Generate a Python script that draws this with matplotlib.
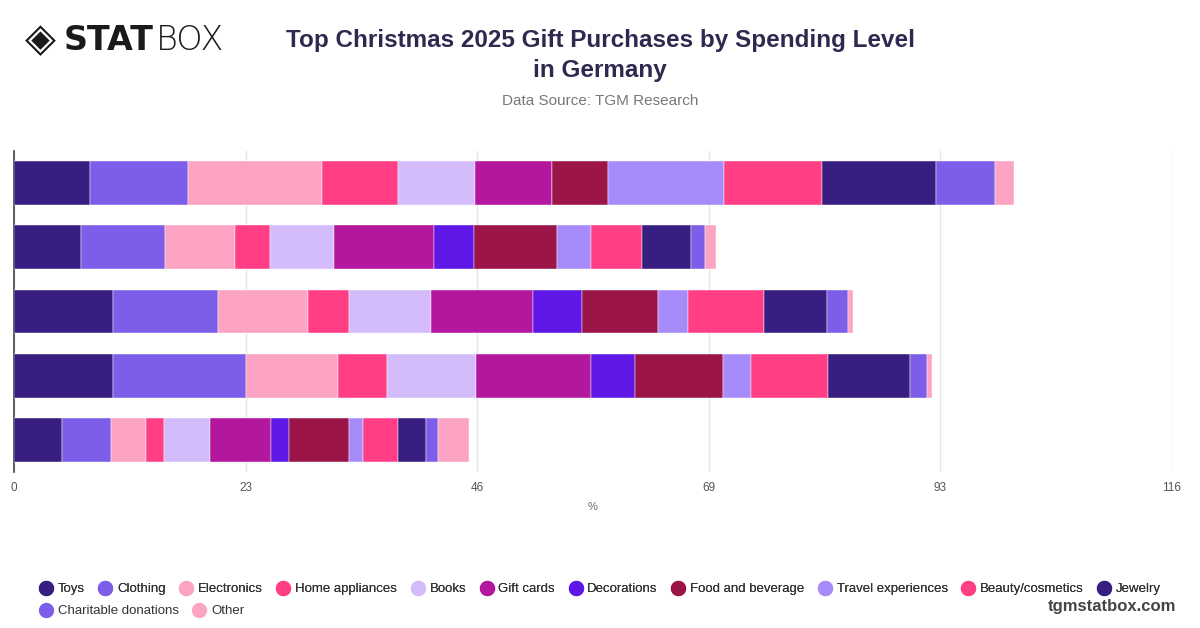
import matplotlib
matplotlib.use("Agg")
import matplotlib.pyplot as plt
from matplotlib.lines import Line2D
import numpy as np

plt.rcParams['font.family'] = ['Liberation Sans', 'DejaVu Sans']

rows = ['Level 1', 'Level 2', 'Level 3', 'Level 4', 'Level 5']
series = ['Toys', 'Clothing', 'Electronics', 'Home appliances', 'Books', 'Gift cards',
          'Decorations', 'Food and beverage', 'Travel experiences', 'Beauty/cosmetics',
          'Jewelry', 'Charitable donations', 'Other']

toys        = [7.6, 6.7, 9.9, 9.9, 4.8]
clothing    = [9.8, 8.4, 10.5, 13.3, 4.9]
electronics = [13.5, 7.0, 9.1, 9.3, 3.5]
home_appl   = [7.6, 3.5, 4.1, 4.9, 1.8]
books       = [7.7, 6.5, 8.2, 8.9, 4.6]
gift_cards  = [7.7, 10.0, 10.2, 11.5, 6.1]
decorations = [0.0, 4.0, 4.9, 4.4, 1.8]
food_bev    = [5.6, 8.3, 7.6, 8.8, 6.1]
travel      = [11.6, 3.4, 3.0, 2.8, 1.4]
beauty      = [9.8, 5.1, 7.6, 7.7, 3.5]
jewelry     = [11.5, 4.9, 6.3, 8.3, 2.8]
charitable  = [5.9, 1.4, 2.1, 1.7, 1.2]
other       = [1.9, 1.1, 0.5, 0.5, 3.1]

values = [toys, clothing, electronics, home_appl, books, gift_cards, decorations,
          food_bev, travel, beauty, jewelry, charitable, other]

colors = ['#371e80', '#7c5ee8', '#fda4c4', '#ff3e85', '#d4bcfa', '#b3179e', '#5e17e6',
          '#9b1549', '#a78bfa', '#ff3e85', '#371e80', '#7c5ee8', '#fda4c4']

xticks = [0, 23.2, 46.4, 69.6, 92.8, 116]
xticklabels = ['0', '23', '46', '69', '93', '116']

fig = plt.figure(figsize=(12, 6.28), dpi=100)
ax = fig.add_axes([14/1200, 1 - 472/628, (1172 - 14)/1200, 321/628])

y = np.arange(len(rows))
left = np.zeros(len(rows))
for name, vals, col in zip(series, values, colors):
    v = np.array(vals)
    ax.barh(y, v, left=left, height=0.685, color=col, edgecolor='white',
            linewidth=0.3, label=name, zorder=3)
    left += v

ax.set_ylim(len(rows) - 0.5, -0.5)
ax.set_xlim(0, 116)
ax.set_yticks([])
ax.set_xticks(xticks)
ax.set_xticklabels(xticklabels, fontsize=8.5, color='#555555')
ax.tick_params(axis='x', length=0, pad=7)
ax.grid(axis='x', color='#e6e6e6', linewidth=1, zorder=0)
for s in ['top', 'right', 'bottom']:
    ax.spines[s].set_visible(False)
ax.spines['left'].set_color('#444444')
ax.spines['left'].set_linewidth(1.2)
ax.set_xlabel('%', fontsize=8, color='#666666', labelpad=6)

# Title
fig.text(0.5, 1 - 40/628, 'Top Christmas 2025 Gift Purchases by Spending Level',
         ha='center', va='center', fontsize=17.5, fontweight='bold', color='#2e2a4f')
fig.text(0.5, 1 - 71/628, 'in Germany',
         ha='center', va='center', fontsize=17.5, fontweight='bold', color='#2e2a4f')
fig.text(0.5, 1 - 101/628, 'Data Source: TGM Research',
         ha='center', va='center', fontsize=11, color='#777777')

# Logo
fig.text(25/1200, 1 - 40/628, '◈', ha='left', va='center', fontsize=29,
         color='#1a1a1a', family='DejaVu Sans')
fig.text(64/1200, 1 - 40/628, 'STAT', ha='left', va='center', fontsize=24,
         fontweight='heavy', color='#1a1a1a', family='DejaVu Sans')
fig.text(156/1200, 1 - 40/628, 'BOX', ha='left', va='center', fontsize=24,
         color='#1a1a1a', family='DejaVu Sans', fontweight='light')

# Legend
handles = [Line2D([0], [0], marker='o', linestyle='none', markersize=10,
                  markerfacecolor=c, markeredgecolor=c) for c in colors]
leg1 = fig.legend(handles[:11], series[:11], loc='center left',
                  bbox_to_anchor=(38/1200, 1 - 589/628), ncol=11, frameon=False,
                  fontsize=9.5, handletextpad=0.3, columnspacing=0.95,
                  handlelength=1.2, borderaxespad=0, borderpad=0)
for t in leg1.get_texts():
    t.set_color('#333333')
leg2 = fig.legend(handles[11:], series[11:], loc='center left',
                  bbox_to_anchor=(38/1200, 1 - 611/628), ncol=2, frameon=False,
                  fontsize=9.5, handletextpad=0.3, columnspacing=0.95,
                  handlelength=1.2, borderaxespad=0, borderpad=0)
for t in leg2.get_texts():
    t.set_color('#333333')
fig.add_artist(leg1)

fig.text(1176/1200, 1 - 607/628, 'tgmstatbox.com', ha='right', va='center',
         fontsize=12, fontweight='bold', color='#444444')

fig.savefig('out.png', dpi=100)
